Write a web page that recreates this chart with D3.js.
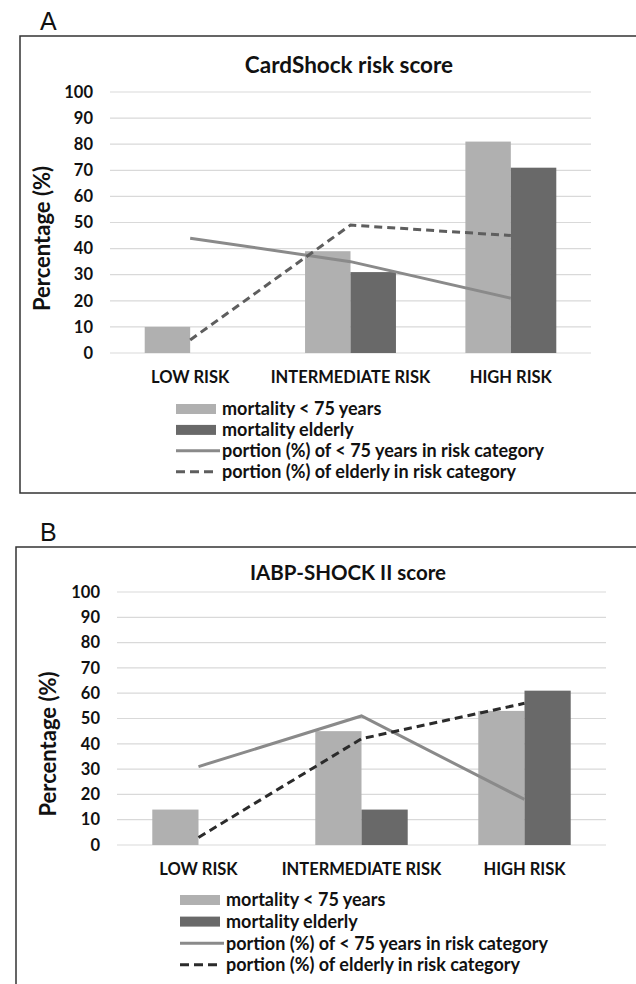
<!DOCTYPE html>
<html>
<head>
<meta charset="utf-8">
<script src="https://cdn.jsdelivr.net/npm/d3@7"></script>
<style>
  html, body { margin: 0; padding: 0; background: #fff; }
  svg { display: block; }
  text { font-family: Lato, "Open Sans", sans-serif; font-weight: 700; fill: #111; }
</style>
</head>
<body>
<svg id="chart" width="636" height="984"></svg>
<script>
// ---------- data ----------
const categories = ["LOW RISK", "INTERMEDIATE RISK", "HIGH RISK"];
const yTicks = [0, 10, 20, 30, 40, 50, 60, 70, 80, 90, 100];
const seriesNames = ["young", "elderly"];
const legendLabels = [
  "mortality < 75 years",
  "mortality elderly",
  "portion (%) of < 75 years in risk category",
  "portion (%) of elderly in risk category"
];

const cardshockTitle = "CardShock risk score";
const cardshockMortalityYoung   = [10, 39, 81];
const cardshockMortalityElderly = [0, 31, 71];
const cardshockPortionYoung     = [44, 35, 21];
const cardshockPortionElderly   = [5, 49, 45];

const iabpTitle = "IABP-SHOCK II score";
const iabpMortalityYoung   = [14, 45, 53];
const iabpMortalityElderly = [0, 14, 61];
const iabpPortionYoung     = [31, 51, 18];
const iabpPortionElderly   = [3, 42, 56];

// ---------- layout ----------
const panels = [
  {
    letter: "A", letterX: 40, letterY: 30,
    box: { x: 20, y: 36, bottom: 493 },
    title: cardshockTitle, titleY: 73, titleSize: 22.5, titleX: 349,
    x0: 110, x1: 591, yTop: 92, yBottom: 353,
    tickRight: 93, yTitleX: 50, yTitleY: 238.5, catY: 377,
    legendX: 176, legendY: 409, legendStep: 20.9,
    dashColor: "#5e5e5e",
    mortYoung: cardshockMortalityYoung, mortElderly: cardshockMortalityElderly,
    portYoung: cardshockPortionYoung, portElderly: cardshockPortionElderly
  },
  {
    letter: "B", letterX: 40, letterY: 541,
    box: { x: 16, y: 547, bottom: 1000 },
    title: iabpTitle, titleY: 580, titleSize: 20.5, titleX: 348,
    x0: 117, x1: 606, yTop: 592, yBottom: 845,
    tickRight: 100, yTitleX: 56, yTitleY: 744, catY: 869,
    legendX: 180, legendY: 900, legendStep: 21.6,
    dashColor: "#2b2b2b",
    mortYoung: iabpMortalityYoung, mortElderly: iabpMortalityElderly,
    portYoung: iabpPortionYoung, portElderly: iabpPortionElderly
  }
];

const lightFill = "#b0b0b0", darkFill = "#696969", solidLine = "#8a8a8a";

const svg = d3.select("#chart");

panels.forEach(p => {
  const g = svg.append("g");

  // panel letter
  g.append("text").attr("x", p.letterX).attr("y", p.letterY)
    .style("font-family", "'Liberation Sans', Arial, sans-serif")
    .style("font-weight", 400).style("font-size", "25px").text(p.letter);

  // frame (right edge beyond the window)
  g.append("rect").attr("x", p.box.x).attr("y", p.box.y)
    .attr("width", 700).attr("height", p.box.bottom - p.box.y)
    .attr("fill", "none").attr("stroke", "#333").attr("stroke-width", 1.5);

  const x = d3.scaleBand().domain(categories).range([p.x0, p.x1])
    .paddingInner(0.433).paddingOuter(0.2165);
  const xs = d3.scaleBand().domain(seriesNames).range([0, x.bandwidth()]);
  const y = d3.scaleLinear().domain([0, 100]).range([p.yBottom, p.yTop]);

  // gridlines
  g.append("g").selectAll("line").data(yTicks).join("line")
    .attr("x1", p.x0).attr("x2", p.x1)
    .attr("y1", d => y(d)).attr("y2", d => y(d))
    .attr("stroke", "#d9d9d9").attr("stroke-width", 1.2);

  // y-axis tick labels
  const yAxis = d3.axisLeft(y).tickValues(yTicks).tickSize(0).tickPadding(0);
  const ya = g.append("g").attr("transform", `translate(${p.tickRight},0)`).call(yAxis);
  ya.select(".domain").remove();
  ya.selectAll("text").style("font-family", "Lato, sans-serif")
    .style("font-weight", 700).style("font-size", "16.5px").attr("fill", "#111");

  // y title
  g.append("text")
    .attr("transform", `translate(${p.yTitleX},${p.yTitleY}) rotate(-90)`)
    .attr("text-anchor", "middle").style("font-size", "22px").text("Percentage (%)");

  // title
  g.append("text").attr("x", p.titleX).attr("y", p.titleY)
    .attr("text-anchor", "middle").style("font-size", p.titleSize + "px").text(p.title);

  // bars
  const barData = categories.map((c, i) => ({ c, young: p.mortYoung[i], elderly: p.mortElderly[i] }));
  const fills = { young: lightFill, elderly: darkFill };
  g.append("g").selectAll("g").data(barData).join("g")
    .attr("transform", d => `translate(${x(d.c)},0)`)
    .selectAll("rect").data(d => seriesNames.map(k => ({ k, v: d[k] }))).join("rect")
    .attr("x", d => xs(d.k)).attr("width", xs.bandwidth())
    .attr("y", d => y(d.v)).attr("height", d => y(0) - y(d.v))
    .attr("fill", d => fills[d.k]);

  // category labels (x axis)
  const xAxis = d3.axisBottom(x).tickSize(0).tickPadding(0);
  const xa = g.append("g").attr("transform", `translate(0,${p.catY})`).call(xAxis);
  xa.select(".domain").remove();
  xa.selectAll("text").style("font-family", "Lato, sans-serif")
    .style("font-weight", 700).style("font-size", "16.5px").attr("fill", "#111")
    .attr("y", 0).attr("dy", "0.36em");

  // lines
  const cx = c => x(c) + x.bandwidth() / 2;
  const line = d3.line().x(d => cx(d.c)).y(d => y(d.v));
  const ptsYoung = categories.map((c, i) => ({ c, v: p.portYoung[i] }));
  const ptsElderly = categories.map((c, i) => ({ c, v: p.portElderly[i] }));
  g.append("path").datum(ptsYoung).attr("d", line)
    .attr("fill", "none").attr("stroke", solidLine).attr("stroke-width", 3);
  g.append("path").datum(ptsElderly).attr("d", line)
    .attr("fill", "none").attr("stroke", p.dashColor).attr("stroke-width", 3)
    .attr("stroke-dasharray", "8,5");

  // legend
  const lg = g.append("g").attr("transform", `translate(${p.legendX},${p.legendY})`);
  legendLabels.forEach((lab, i) => {
    const yy = i * p.legendStep;
    if (i === 0 || i === 1) {
      lg.append("rect").attr("x", 0).attr("y", yy - 5).attr("width", 40).attr("height", 10)
        .attr("fill", i === 0 ? lightFill : darkFill);
    } else if (i === 2) {
      lg.append("line").attr("x1", 0).attr("x2", 44).attr("y1", yy).attr("y2", yy)
        .attr("stroke", solidLine).attr("stroke-width", 3);
    } else {
      lg.append("line").attr("x1", 0).attr("x2", 40).attr("y1", yy).attr("y2", yy)
        .attr("stroke", p.dashColor).attr("stroke-width", 3).attr("stroke-dasharray", "9,5");
    }
    lg.append("text").attr("x", 46).attr("y", yy).attr("dy", "0.35em")
      .style("font-size", "18px").text(lab);
  });
});
</script>
</body>
</html>
